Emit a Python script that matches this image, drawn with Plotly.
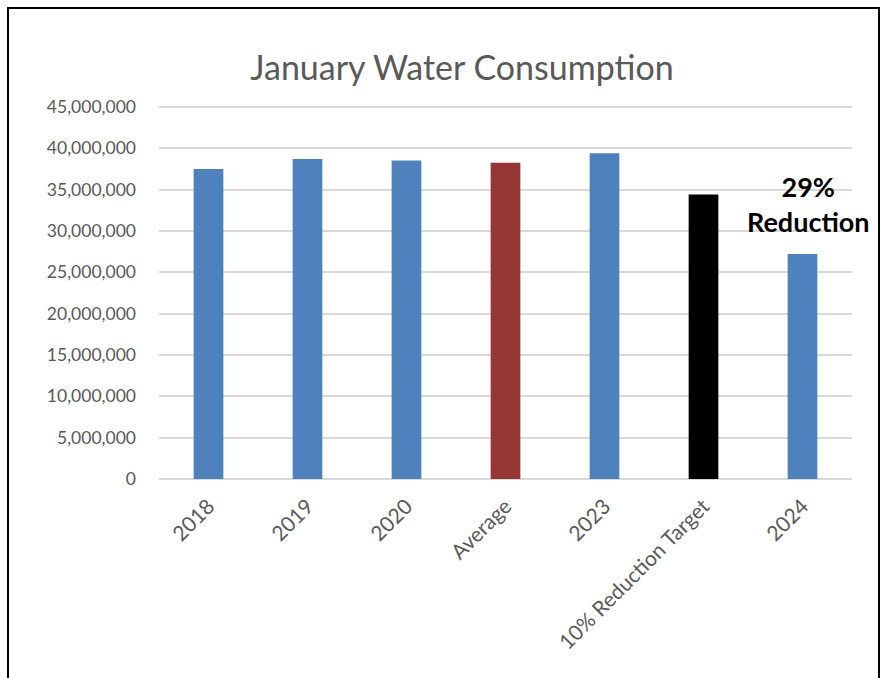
import plotly.graph_objects as go

categories = ["2018", "2019", "2020", "Average", "2023", "10% Reduction Target", "2024"]
values = [37500000, 38700000, 38500000, 38230000, 39400000, 34400000, 27200000]
colors = ["#4F81BD", "#4F81BD", "#4F81BD", "#953735", "#4F81BD", "#000000", "#4F81BD"]
y_ticks = [0, 5000000, 10000000, 15000000, 20000000, 25000000, 30000000, 35000000, 40000000, 45000000]
title_text = "January Water Consumption"
note_text = "29%<br>Reduction"

FONT = "Lato"
GREY = "#595959"

fig = go.Figure(go.Bar(
    x=categories, y=values, marker=dict(color=colors, line=dict(width=0)),
    hoverinfo="x+y",
))

n = len(categories)
fig.update_layout(
    width=884, height=678,
    margin=dict(l=159, r=32, t=105, b=199),
    paper_bgcolor="white", plot_bgcolor="white",
    bargap=0.7,
    showlegend=False,
    font=dict(family=FONT, color=GREY),
    title=dict(text=title_text, xref="container", x=462 / 884, xanchor="center",
               y=1 - 68 / 678, yanchor="middle",
               font=dict(family=FONT, size=34, color=GREY)),
    xaxis=dict(type="category", range=[-0.5, n - 0.5], tickangle=-45,
               tickfont=dict(size=21, color=GREY), ticklabelstandoff=10,
               showgrid=False, showline=False, ticks="", zeroline=False),
    yaxis=dict(range=[0, 45000000 * 1.005], tickvals=y_ticks,
               ticktext=[f"{v:,}" for v in y_ticks],
               tickfont=dict(size=17.5, color=GREY), showgrid=True, gridcolor="#D9D9D9",
               gridwidth=1.5, zeroline=True, zerolinecolor="#D9D9D9", zerolinewidth=1.5,
               ticks="", ticklabelstandoff=22, showline=False),
    annotations=[dict(x=n - 1, y=33200000, xref="x", yref="y", text=note_text,
                      showarrow=False, xshift=6, yanchor="middle",
                      font=dict(family=FONT, size=27, color="black", weight="bold"))],
    shapes=[dict(type="rect", xref="paper", yref="paper",
                 x0=(8 - 159) / 693, x1=(879 - 159) / 693,
                 y0=(479 - 700) / 374, y1=(479 - 8) / 374,
                 line=dict(color="black", width=2), fillcolor="rgba(0,0,0,0)", layer="above")],
)

fig.write_html("out.html")
